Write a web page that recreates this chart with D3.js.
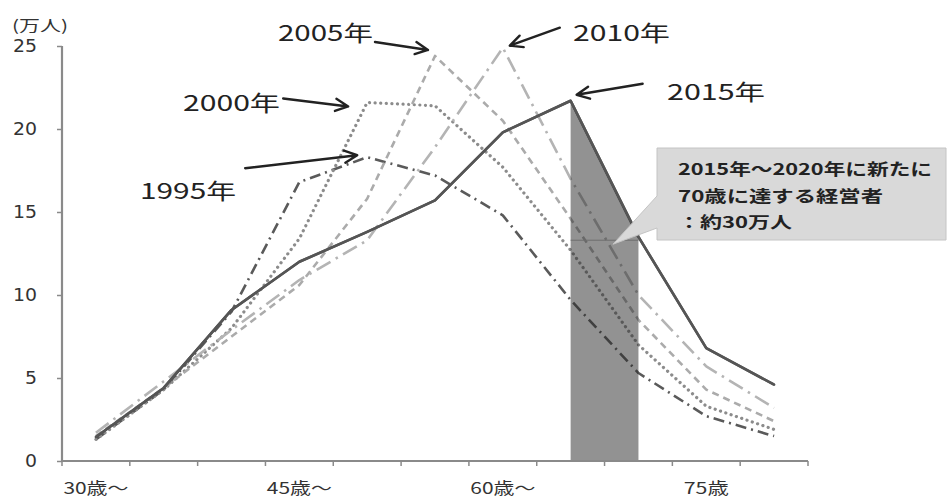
<!DOCTYPE html>
<html><head><meta charset="utf-8">
<script src="https://cdn.jsdelivr.net/npm/d3@7"></script>
<style>
html,body{margin:0;padding:0;background:#fff;}
svg{display:block;}
</style></head>
<body><svg id="c" width="948" height="502"></svg>
<script>
const categories = ["30歳～","35歳～","40歳～","45歳～","50歳～","55歳～","60歳～","65歳～","70歳～","75歳～","80歳～"];
const tickLabels = ["30歳～","","","45歳～","","","60歳～","","","75歳",""];
const yTicks = [0,5,10,15,20,25];
const years = ["1995年","2000年","2005年","2010年","2015年"];
const s1995 = [1.3, 4.3, 9.0, 16.8, 18.3, 17.2, 14.8, 9.7, 5.3, 2.7, 1.5];
const s2000 = [1.3, 4.3, 8.0, 13.4, 21.6, 21.4, 17.7, 12.7, 7.0, 3.3, 1.9];
const s2005 = [1.5, 4.4, 7.5, 10.6, 15.8, 24.4, 20.5, 14.6, 8.5, 4.3, 2.4];
const s2010 = [1.7, 4.8, 7.9, 10.9, 13.3, 18.9, 24.9, 17.0, 10.0, 5.7, 3.2];
const s2015 = [1.45, 4.4, 9.1, 12.0, 13.8, 15.7, 19.8, 21.7, 13.5, 6.8, 4.6];
const calloutLines = ["2015年～2020年に新たに","70歳に達する経営者","：約30万人"];
const yUnit = "(万人)";

const svg = d3.select("#c");
const x = d3.scaleBand().domain(categories).range([62, 808]).paddingInner(0).paddingOuter(0);
const cx = c => x(c) + x.bandwidth()/2;
const y = d3.scaleLinear().domain([0,25]).range([461, 46]);
const font = "'Noto Sans CJK JP'";

const series = [
  {name:years[0], v:s1995, color:"#5a5a5a", dash:"11,5,2,5", w:2.6, cap:"butt"},
  {name:years[1], v:s2000, color:"#8c8c8c", dash:"0.1,5.5", w:3.2, cap:"round"},
  {name:years[2], v:s2005, color:"#ababab", dash:"7,5", w:2.6, cap:"butt"},
  {name:years[3], v:s2010, color:"#b4b4b4", dash:"16,6,2.5,6", w:2.6, cap:"butt"},
  {name:years[4], v:s2015, color:"#555555", dash:null, w:2.6, cap:"round"}
];

const line = d3.line().x((d,i)=>cx(categories[i])).y(d=>y(d));

const gLines = svg.append("g");
series.forEach(s=>{
  gLines.append("path").datum(s.v).attr("d", line)
    .attr("fill","none").attr("stroke", s.color).attr("stroke-width", s.w)
    .attr("stroke-linejoin","round").attr("stroke-linecap", s.cap)
    .attr("stroke-dasharray", s.dash);
});

// shaded area between 65-69 and 70-74 under the 2015 line
const i0 = 7, i1 = 8;
const area = d3.area().x((d,i)=>cx(categories[i0+i])).y0(y(0)).y1(d=>y(d));
svg.append("path").datum(s2015.slice(i0, i1+1)).attr("d", area)
  .attr("fill","#262626").attr("fill-opacity",0.5);
svg.append("line").attr("x1", cx(categories[i0])).attr("x2", cx(categories[i1]))
  .attr("y1", y(13.3)).attr("y2", y(13.3)).attr("stroke","#6e6e6e").attr("stroke-width",1);
svg.append("path").datum(s2015).attr("d", line).attr("fill","none")
  .attr("stroke","#555").attr("stroke-width",2.6).attr("stroke-linejoin","round");

// y axis
const yAxis = d3.axisLeft(y).tickValues(yTicks).tickSize(5).tickPadding(20);
const gy = svg.append("g").attr("transform","translate(62,0)").call(yAxis);
gy.select(".domain").attr("stroke","#8a8a8a").attr("stroke-width",2.2).attr("d","M0,46V461");
gy.selectAll(".tick line").attr("stroke","#8a8a8a").attr("stroke-width",1.5);
gy.selectAll(".tick text").attr("font-family","'DejaVu Sans'")
  .attr("font-size",17).attr("fill","#333").attr("dy","0.35em")
  .attr("textLength", d => d >= 10 ? 24 : 12).attr("lengthAdjust","spacingAndGlyphs");

// x axis
const gx = svg.append("g").attr("transform","translate(0,461)");
gx.append("line").attr("x1",62).attr("x2",808).attr("stroke","#8a8a8a").attr("stroke-width",2.2);
const bounds = categories.map(c=>x(c)).concat([x(categories[categories.length-1])+x.bandwidth()]);
gx.selectAll("line.t").data(bounds).enter().append("line").attr("class","t")
  .attr("x1",d=>d).attr("x2",d=>d).attr("y1",0).attr("y2",5)
  .attr("stroke","#8a8a8a").attr("stroke-width",1.5);
gx.selectAll("text").data(categories).enter().append("text")
  .attr("x",c=>cx(c)).attr("y",33).attr("text-anchor","middle")
  .attr("font-family",font).attr("font-size",16).attr("fill","#333")
  .attr("textLength",(c,i)=> tickLabels[i].length===4 ? 65 : 45)
  .attr("lengthAdjust","spacingAndGlyphs")
  .text((c,i)=>tickLabels[i]);

svg.append("text").attr("x",12).attr("y",31).attr("font-family",font)
  .attr("font-size",15).attr("fill","#333").attr("textLength",56)
  .attr("lengthAdjust","spacingAndGlyphs").text(yUnit);

// year labels
const labels = [
  {t:years[0], x:140, y:199, w:96},
  {t:years[1], x:183, y:111, w:97},
  {t:years[2], x:278, y:41, w:95},
  {t:years[3], x:573, y:41, w:97},
  {t:years[4], x:667, y:100, w:98}
];
labels.forEach(l=>{
  svg.append("text").attr("x",l.x).attr("y",l.y).attr("font-family",font)
    .attr("font-size",22).attr("fill","#222").attr("textLength",l.w)
    .attr("lengthAdjust","spacingAndGlyphs").text(l.t);
});
// arrows anchored to series points
const arrows = [
  {s:s1995, i:4, dx:-10, dy:-2, tx:-112, ty:13},
  {s:s2000, i:4, dx:-19, dy:4, tx:-65, ty:-8},
  {s:s2005, i:5, dx:-7, dy:-6, tx:-53, ty:-8},
  {s:s2010, i:6, dx:7, dy:-2, tx:50, ty:-18},
  {s:s2015, i:7, dx:6, dy:-6, tx:66, ty:-11}
];
arrows.forEach(a=>{
  const px = cx(categories[a.i]) + a.dx, py = y(a.s[a.i]) + a.dy;
  const sx = px + a.tx, sy = py + a.ty;
  const ang = Math.atan2(py-sy, px-sx);
  const hl = 14, ha = 0.45;
  const p1 = [px - hl*Math.cos(ang-ha), py - hl*Math.sin(ang-ha)];
  const p2 = [px - hl*Math.cos(ang+ha), py - hl*Math.sin(ang+ha)];
  svg.append("path").attr("d",`M${sx},${sy}L${px},${py}M${p1[0]},${p1[1]}L${px},${py}L${p2[0]},${p2[1]}`)
    .attr("fill","none").attr("stroke","#222").attr("stroke-width",2.4)
    .attr("stroke-linecap","round").attr("stroke-linejoin","round");
});

// callout
const bx = 657, by = 148, bw = 289, bh = 92;
const tipX = 613, tipY = y(13.3) + 4;
svg.append("path")
  .attr("d",`M${bx},${by}H${bx+bw}V${by+bh}H${bx}V${by+80}L${tipX},${tipY}L${bx},${by+48}Z`)
  .attr("fill","#d9d9d9").attr("stroke","#c4c4c4").attr("stroke-width",1);
const cl = [{w:254, yy:175},{w:205, yy:202},{w:114, yy:228}];
calloutLines.forEach((t,i)=>{
  svg.append("text").attr("x",678).attr("y",cl[i].yy).attr("font-family",font)
    .attr("font-size",16).attr("font-weight","bold").attr("fill","#222")
    .attr("textLength",cl[i].w).attr("lengthAdjust","spacingAndGlyphs").text(t);
});
</script></body></html>
